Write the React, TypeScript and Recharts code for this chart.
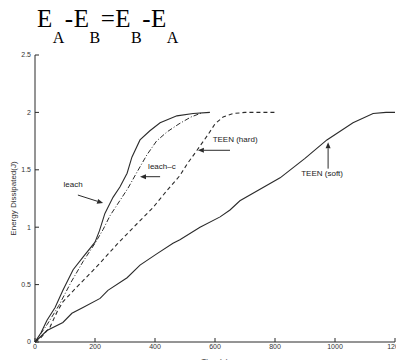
import React from "react";
import {
  LineChart,
  Line,
  XAxis,
  YAxis,
  ReferenceLine,
  ReferenceDot,
} from "recharts";

// time (s) / energy (J)
const leachX = [0, 20, 40, 67, 93, 127, 160, 200, 215, 233, 260, 283, 307, 323, 350, 383, 417, 473, 527, 583];
const leachY = [0, 0.08, 0.19, 0.3, 0.45, 0.63, 0.74, 0.87, 0.97, 1.12, 1.26, 1.35, 1.47, 1.61, 1.76, 1.84, 1.91, 1.97, 1.99, 2.0];

const leachCX = [0, 40, 80, 120, 160, 200, 227, 250, 290, 310, 340, 373, 405, 440, 480, 520, 560];
const leachCY = [0, 0.15, 0.32, 0.52, 0.7, 0.86, 0.98, 1.1, 1.26, 1.34, 1.48, 1.63, 1.75, 1.83, 1.9, 1.96, 2.0];

const teenHardX = [0, 17, 50, 73, 93, 140, 207, 273, 340, 393, 440, 483, 507, 540, 575, 600, 627, 660, 700, 800];
const teenHardY = [0, 0.03, 0.13, 0.26, 0.35, 0.48, 0.66, 0.85, 1.03, 1.17, 1.32, 1.45, 1.55, 1.67, 1.8, 1.9, 1.96, 1.99, 2.0, 2.0];

const teenSoftX = [0, 40, 93, 123, 160, 217, 243, 307, 350, 407, 460, 483, 550, 617, 650, 683, 817, 900, 973, 1060, 1127, 1170, 1200];
const teenSoftY = [0, 0.1, 0.17, 0.25, 0.3, 0.38, 0.45, 0.56, 0.67, 0.77, 0.86, 0.89, 1.0, 1.09, 1.15, 1.23, 1.43, 1.6, 1.76, 1.91, 1.99, 2.0, 2.0];

const xTicks = [0, 200, 400, 600, 800, 1000, 1200];
const yTicks = [0, 0.5, 1, 1.5, 2, 2.5];

// annotation labels and arrows (data coordinates)
const labelNames = ["leach", "leach\u2013c", "TEEN (hard)", "TEEN (soft)"];
const labelX = [127, 423, 667, 957];
const labelY = [1.37, 1.53, 1.76, 1.47];
const arrowFrom = [
  { x: 143, y: 1.28 },
  { x: 417, y: 1.44 },
  { x: 650, y: 1.67 },
  { x: 977, y: 1.51 },
];
const arrowTo = [
  { x: 227, y: 1.21 },
  { x: 350, y: 1.44 },
  { x: 543, y: 1.67 },
  { x: 977, y: 1.74 },
];

const toPoints = (xs: number[], ys: number[]) => xs.map((x, i) => ({ x, y: ys[i] }));

const leach = toPoints(leachX, leachY);
const leachC = toPoints(leachCX, leachCY);
const teenHard = toPoints(teenHardX, teenHardY);
const teenSoft = toPoints(teenSoftX, teenSoftY);

const ink = "#2b2b2b";

const Arrow = (props: any) => {
  const { x1, y1, x2, y2 } = props;
  const a = Math.atan2(y2 - y1, x2 - x1);
  const len = 6;
  const w = 2.5;
  const bx = x2 - len * Math.cos(a);
  const by = y2 - len * Math.sin(a);
  const px = -Math.sin(a) * w;
  const py = Math.cos(a) * w;
  return (
    <g>
      <line x1={x1} y1={y1} x2={bx} y2={by} stroke={ink} strokeWidth={1} />
      <polygon
        points={`${x2},${y2} ${bx + px},${by + py} ${bx - px},${by - py}`}
        fill={ink}
      />
    </g>
  );
};

const tickStyle = { fontSize: 7, fill: "#333" };

export default function App() {
  return (
    <div
      style={{
        position: "absolute",
        left: 0,
        top: 0,
        width: 396,
        height: 360,
        background: "#fff",
        fontFamily: "'Liberation Sans', Arial, sans-serif",
      }}
    >
      <svg width={396} height={50} style={{ position: "absolute", left: 0, top: 0 }}>
        <text
          x={37}
          y={27}
          fontFamily="'Liberation Serif', 'Times New Roman', serif"
          fontSize={25}
          letterSpacing={0.5}
          fill="#000"
        >
          <tspan>E</tspan>
          <tspan fontSize={16} dy={16}>A</tspan>
          <tspan dy={-16}>-E</tspan>
          <tspan fontSize={16} dy={16}>B</tspan>
          <tspan dy={-16}>=E</tspan>
          <tspan fontSize={16} dy={16}>B</tspan>
          <tspan dy={-16}>-E</tspan>
          <tspan fontSize={16} dy={16}>A</tspan>
        </text>
      </svg>
      <LineChart
        width={396}
        height={360}
        margin={{ top: 55, right: 1, bottom: 0, left: 0 }}
      >
        <XAxis
          xAxisId="b"
          type="number"
          dataKey="x"
          domain={[0, 1200]}
          ticks={xTicks}
          height={18}
          tickSize={-4}
          tickMargin={6}
          tick={tickStyle}
          stroke={ink}
          interval={0}
          label={{ value: "Time(s)", position: "center", dy: 10, fontSize: 8, fill: "#333" }}
        />
        <XAxis
          xAxisId="t"
          orientation="top"
          type="number"
          dataKey="x"
          domain={[0, 1200]}
          ticks={xTicks}
          height={0}
          tickSize={-4}
          tickFormatter={() => ""}
          stroke={ink}
          interval={0}
        />
        <YAxis
          yAxisId="l"
          type="number"
          domain={[0, 2.5]}
          ticks={yTicks}
          width={35}
          tickSize={-4}
          tickMargin={8}
          tick={tickStyle}
          stroke={ink}
          interval={0}
          label={{ value: "Energy Dissipated(J)", angle: -90, position: "center", dx: -4, fontSize: 8, fill: "#333" }}
        />
        <YAxis
          yAxisId="r"
          orientation="right"
          type="number"
          domain={[0, 2.5]}
          ticks={yTicks}
          width={0}
          tickSize={-4}
          tickFormatter={() => ""}
          stroke={ink}
          interval={0}
        />
        <Line xAxisId="b" yAxisId="l" data={teenSoft} dataKey="y" stroke={ink} strokeWidth={1.1} dot={false} isAnimationActive={false} />
        <Line xAxisId="b" yAxisId="l" data={teenHard} dataKey="y" stroke={ink} strokeWidth={1.1} strokeDasharray="4 3" dot={false} isAnimationActive={false} />
        <Line xAxisId="b" yAxisId="l" data={leachC} dataKey="y" stroke={ink} strokeWidth={1} strokeDasharray="5 2 1 2" dot={false} isAnimationActive={false} />
        <Line xAxisId="b" yAxisId="l" data={leach} dataKey="y" stroke={ink} strokeWidth={1.1} dot={false} isAnimationActive={false} />
        {arrowFrom.map((p, i) => (
          <ReferenceLine
            key={`a${i}`}
            xAxisId="b"
            yAxisId="l"
            segment={[p, arrowTo[i]]}
            shape={Arrow}
            ifOverflow="visible"
          />
        ))}
        {labelNames.map((name, i) => (
          <ReferenceDot
            key={`l${i}`}
            xAxisId="b"
            yAxisId="l"
            x={labelX[i]}
            y={labelY[i]}
            r={1}
            shape={(p: any) => (
              <text
                x={p.cx}
                y={p.cy}
                textAnchor="middle"
                dominantBaseline="central"
                fontSize={8}
                fill="#222"
              >
                {name}
              </text>
            )}
          />
        ))}
      </LineChart>
    </div>
  );
}
